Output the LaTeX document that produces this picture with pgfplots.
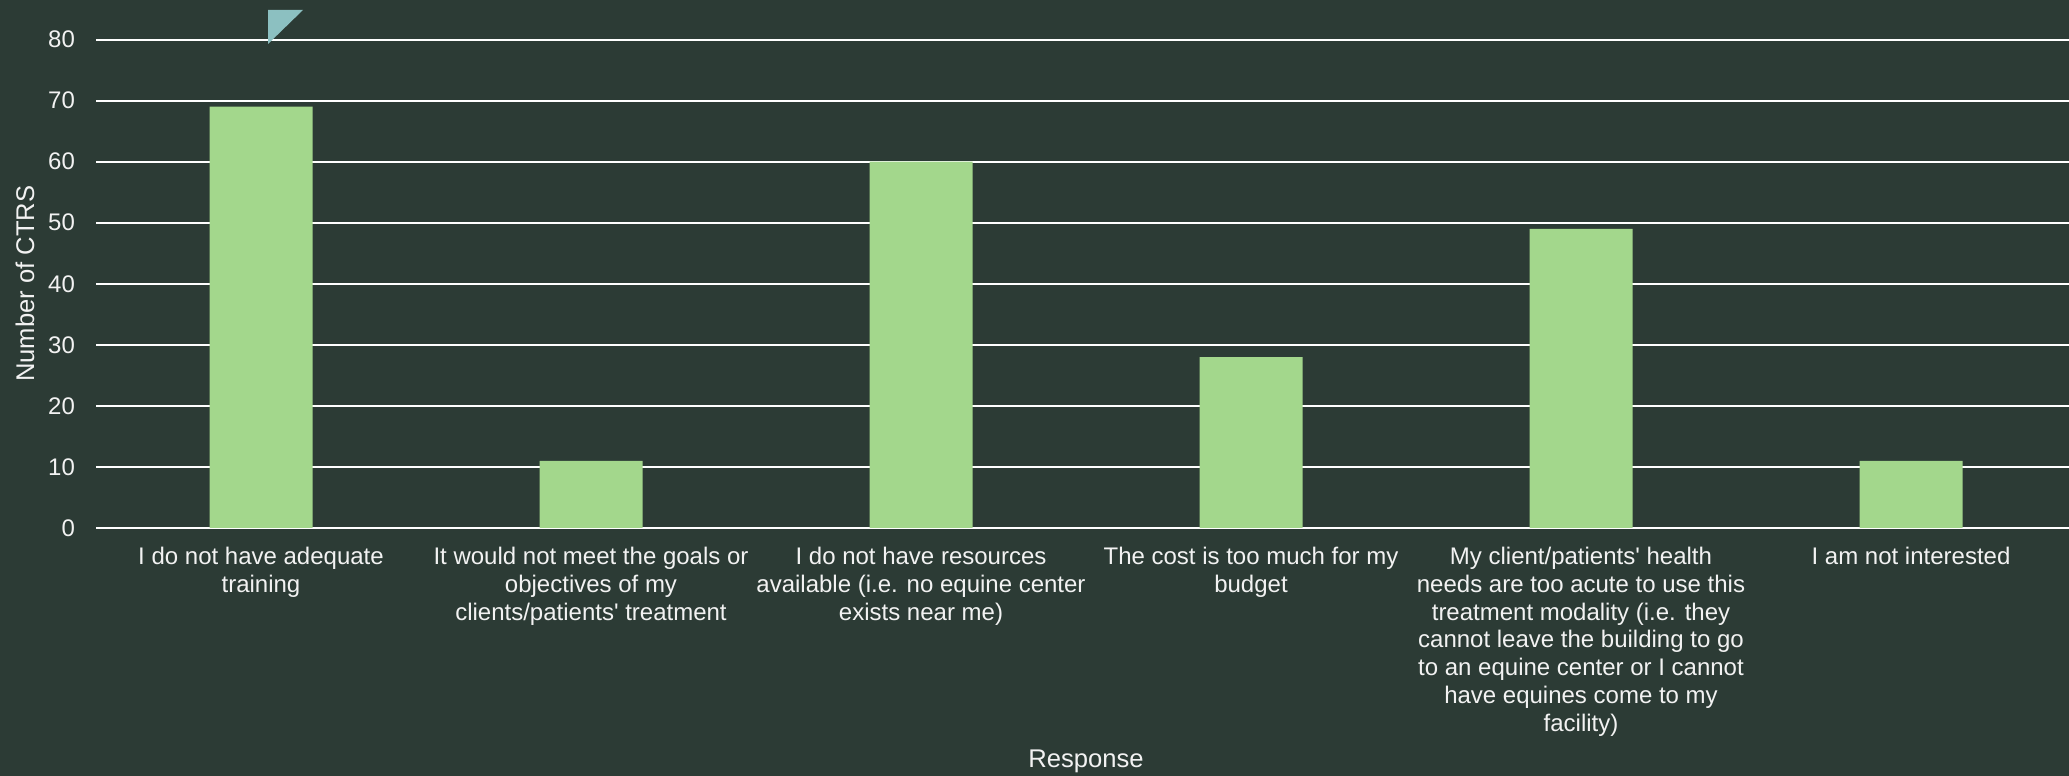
\documentclass[border=0pt]{standalone}
\usepackage{fontspec}
\setmainfont{Liberation Sans}
\usepackage{pgfplots}
\pgfplotsset{compat=1.18}
\definecolor{bg}{HTML}{2C3B35}
\definecolor{barfill}{HTML}{A3D78C}
\definecolor{tri}{HTML}{8CC0C1}
\definecolor{txt}{HTML}{F2F2F2}
\begin{document}
\begin{tikzpicture}
\path[use as bounding box, fill=bg] (0,0) rectangle (1034.5pt,388pt);
\begin{axis}[
    at={(48pt,124pt)}, anchor=south west,
    scale only axis,
    width=990pt, height=244.25pt,
    ybar, bar width=51.5pt,
    xmin=-0.5, xmax=5.5,
    ymin=0, ymax=80,
    ytick={0,10,...,80},
    xtick={0,...,5},
    xticklabels={
        {I do not have adequate\\training},
        {It would not meet the goals or\\objectives of my\\clients/patients\textquotesingle{} treatment},
        {I do not have resources\\available (i.e. no equine center\\exists near me)},
        {The cost is too much for my\\budget},
        {My client/patients\textquotesingle{} health\\needs are too acute to use this\\treatment modality (i.e. they\\cannot leave the building to go\\to an equine center or I cannot\\have equines come to my\\facility)},
        {I am not interested}
    },
    axis line style={draw=none},
    major tick length=0pt,
    ymajorgrids,
    grid style={white, line width=1pt},
    /pgf/number format/assume math mode=true,
    yticklabel style={font=\fontsize{12}{14}\selectfont, text=txt, xshift=-7pt},
    xticklabel style={font=\fontsize{12}{13.9}\selectfont, text=txt, align=center, anchor=north, yshift=-6pt},
    ylabel={Number of CTRS},
    xlabel={Response},
    every axis y label/.style={at={(rel axis cs:-0.0359,0.5)}, rotate=90, anchor=center, font=\fontsize{12.8}{14}\selectfont, text=txt},
    every axis x label/.style={at={(rel axis cs:0.5,0)}, anchor=center, yshift=-116.5pt, font=\fontsize{12.8}{14}\selectfont, text=txt},
]
\addplot[fill=barfill, draw=none] coordinates {(0,69) (1,11) (2,60) (3,28) (4,49) (5,11)};
\end{axis}
% decorative corner mark
\fill[tri] (134pt,383pt) -- (151.5pt,383pt) -- (134pt,366pt) -- cycle;
\end{tikzpicture}
\end{document}
